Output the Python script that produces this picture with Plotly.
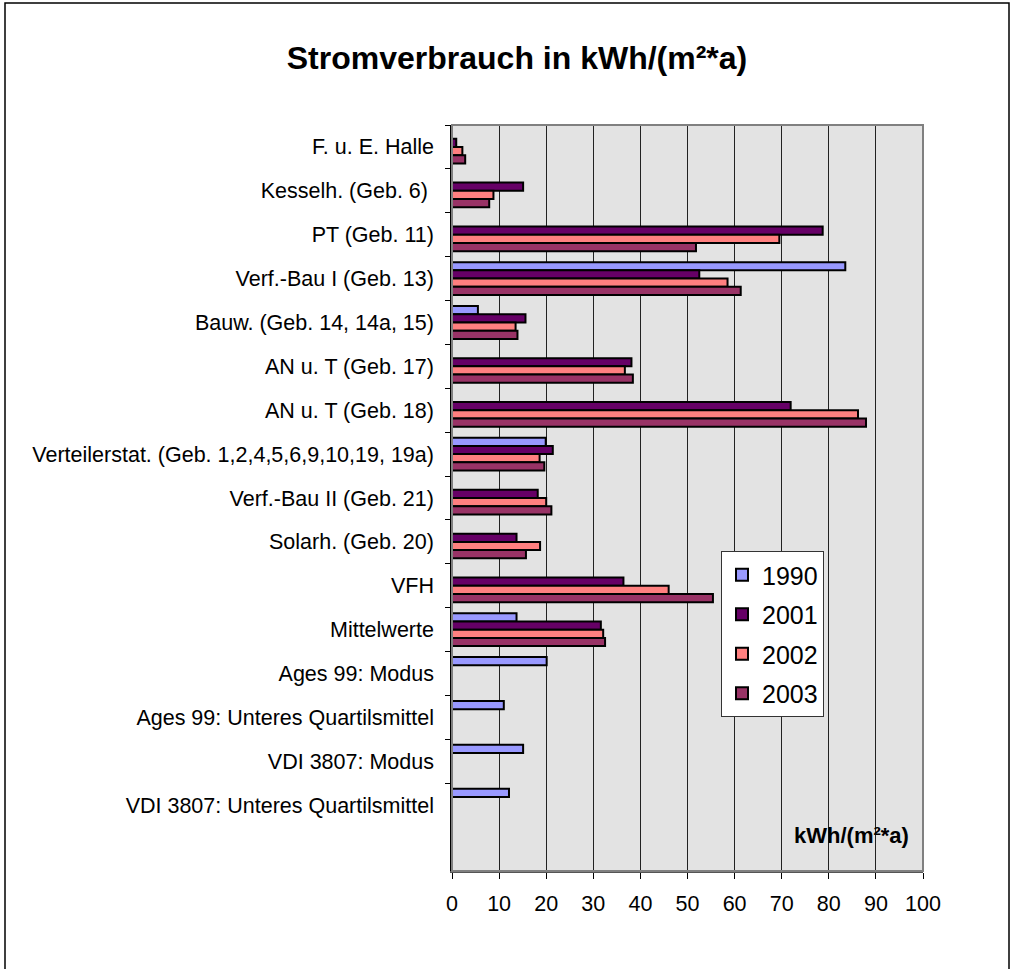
import plotly.graph_objects as go

categories = [
    "F. u. E. Halle",
    "Kesselh. (Geb. 6)\u00a0",
    "PT (Geb. 11)",
    "Verf.-Bau I (Geb. 13)",
    "Bauw. (Geb. 14, 14a, 15)",
    "AN u. T (Geb. 17)",
    "AN u. T (Geb. 18)",
    "Verteilerstat. (Geb. 1,2,4,5,6,9,10,19, 19a)",
    "Verf.-Bau II (Geb. 21)",
    "Solarh. (Geb. 20)",
    "VFH",
    "Mittelwerte",
    "Ages 99: Modus",
    "Ages 99: Unteres Quartilsmittel",
    "VDI 3807: Modus",
    "VDI 3807: Unteres Quartilsmittel",
]

v1990 = [None, None, None, 83.5, 5.5, None, None, 19.9, None, None, None, 13.7, 20.1, 11.0, 15.1, 12.1]
v2001 = [0.9, 15.1, 78.7, 52.5, 15.6, 38.1, 71.9, 21.4, 18.2, 13.7, 36.4, 31.6, None, None, None, None]
v2002 = [2.2, 8.8, 69.5, 58.5, 13.5, 36.7, 86.2, 18.6, 20.0, 18.7, 46.0, 32.1, None, None, None, None]
v2003 = [2.8, 7.9, 51.8, 61.3, 13.9, 38.4, 87.9, 19.6, 21.1, 15.7, 55.4, 32.5, None, None, None, None]

series = [("1990", v1990, "#9999ff"), ("2001", v2001, "#660066"),
          ("2002", v2002, "#ff8080"), ("2003", v2003, "#993366")]

x_ticks = [0, 10, 20, 30, 40, 50, 60, 70, 80, 90, 100]

FONT = "Liberation Sans, Arial, sans-serif"

fig = go.Figure()
for name, vals, col in series:
    fig.add_trace(go.Bar(
        y=categories, x=vals, name=name, orientation="h",
        marker=dict(color=col, line=dict(color="black", width=2)),
        legendgroup=name,
    ))

W, H = 1012, 969
L, R, T, B = 452, 923, 125, 871

fig.update_layout(
    width=W, height=H,
    margin=dict(l=L, r=W - R, t=T, b=H - B, pad=0),
    paper_bgcolor="white",
    plot_bgcolor="#e3e3e3",
    barmode="group", bargap=0.25, bargroupgap=0,
    font=dict(family=FONT, color="black", size=21),
    title=dict(text="<b>Stromverbrauch in kWh/(m²*a)</b>", x=517 / W, xanchor="center",
               y=1 - 58 / H, yanchor="middle", font=dict(size=32, family=FONT)),
    legend=dict(x=(721 - L) / (R - L), xanchor="left", y=(B - 551) / (B - T), yanchor="top",
                bgcolor="white", bordercolor="#333", borderwidth=1,
                font=dict(size=25, family=FONT), tracegroupgap=4,
                itemwidth=30),
    showlegend=True,
)

fig.update_xaxes(
    range=[0, 100], tickvals=x_ticks, ticktext=[str(t) for t in x_ticks],
    showgrid=True, gridcolor="#222", gridwidth=1,
    ticks="outside", ticklen=6, tickcolor="black", tickwidth=1,
    showline=True, linecolor="#555", linewidth=2,
    tickfont=dict(size=21.5, family=FONT), zeroline=False, ticklabelstandoff=6,
)
fig.update_yaxes(
    categoryorder="array", categoryarray=categories,
    range=[len(categories) + 0.5, -0.5],
    ticks="outside", ticklen=5, tickcolor="black", tickson="boundaries",
    showline=True, linecolor="black", linewidth=1.5,
    showgrid=False, tickfont=dict(size=21.5, family=FONT), ticklabelstandoff=12,
)

# plot frame (gray top/right)
fig.add_shape(type="rect", xref="paper", yref="paper", x0=0, x1=1, y0=0, y1=1,
              line=dict(color="#808080", width=2), layer="above")
# outer chart border
fig.add_shape(type="rect", xref="paper", yref="paper",
              x0=(5 - L) / (R - L), x1=(1009 - L) / (R - L),
              y0=(B - 990) / (B - T), y1=(B - 3) / (B - T),
              line=dict(color="black", width=1.5), layer="above")

fig.add_annotation(text="<b>kWh/(m²*a)</b>", xref="paper", yref="paper",
                   x=(911 - L) / (R - L), xanchor="right",
                   y=(B - 835) / (B - T), yanchor="middle",
                   showarrow=False, font=dict(size=22, family=FONT))

fig.write_html("out.html", config={"displayModeBar": False},
               post_script="document.body.style.margin='0px';document.body.style.overflow='hidden';")
